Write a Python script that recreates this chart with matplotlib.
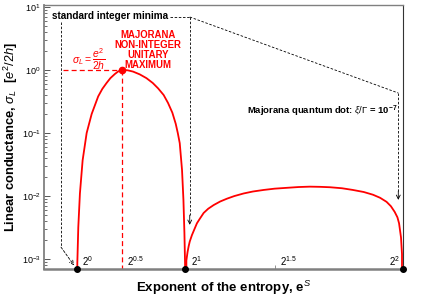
import matplotlib
matplotlib.use("Agg")
import matplotlib.pyplot as plt
import numpy as np

plt.rcParams['font.family'] = ['Liberation Sans', 'DejaVu Sans']
plt.rcParams['mathtext.fontset'] = 'custom'
plt.rcParams['mathtext.rm'] = 'Liberation Sans'
plt.rcParams['mathtext.it'] = 'Liberation Sans:italic'
plt.rcParams['mathtext.bf'] = 'Liberation Sans:bold'

# ---- data ----
arch1_x = [1.000, 1.006, 1.015, 1.030, 1.055, 1.092, 1.138, 1.198, 1.236, 1.275, 1.310,
           1.351, 1.380, 1.414, 1.470, 1.519, 1.580, 1.642, 1.700, 1.749, 1.800, 1.840,
           1.880, 1.911, 1.930, 1.948, 1.969, 1.982, 1.991, 1.997, 2.000]
arch1_y = [0, 8.5e-4, 3.2e-3, 1.1e-2, 3.7e-2, 0.10, 0.20, 0.38, 0.50, 0.62, 0.74,
           0.86, 0.94, 1.0, 0.985, 0.94, 0.85, 0.74, 0.62, 0.51, 0.40, 0.30,
           0.21, 0.14, 0.10, 0.069, 0.026, 8.7e-3, 2.6e-3, 8.5e-4, 0]
arch2_x = [2.000, 2.009, 2.020, 2.030, 2.040, 2.060, 2.080, 2.106, 2.130, 2.168, 2.210,
           2.260, 2.320, 2.383, 2.450, 2.536, 2.620, 2.720, 2.820, 2.930, 3.040,
           3.145, 3.240, 3.330, 3.440, 3.540, 3.640, 3.725, 3.790, 3.850, 3.890,
           3.925, 3.950, 3.965, 3.983, 3.992, 4.000]
arch2_y = [0, 9.5e-4, 1.3e-3, 1.6e-3, 1.9e-3, 2.4e-3, 2.9e-3, 3.7e-3, 4.3e-3, 5.4e-3, 6.3e-3,
           7.2e-3, 8.2e-3, 9.1e-3, 1.0e-2, 1.10e-2, 1.18e-2, 1.25e-2, 1.31e-2, 1.35e-2, 1.39e-2,
           1.41e-2, 1.40e-2, 1.38e-2, 1.33e-2, 1.25e-2, 1.16e-2, 1.05e-2, 9.4e-3, 8.1e-3, 6.9e-3,
           5.6e-3, 4.6e-3, 3.7e-3, 2.2e-3, 1.2e-3, 0]
minima_x = [1.0, 2.0, 4.0]
max_x = 2 ** 0.5
max_y = 1.0
tick_vals = [1.0, 2 ** 0.5, 2.0, 2 ** 1.5, 4.0]
tick_labels = [r'$\mathdefault{2^{0}}$', r'$\mathdefault{2^{0.5}}$', r'$\mathdefault{2^{1}}$',
               r'$\mathdefault{2^{1.5}}$', r'$\mathdefault{2^{2}}$']

YMIN, YMAX = 6.9e-4, 10.7
XMIN, XMAX = 0.70, 4.0

fig = plt.figure(figsize=(4.36, 2.98), dpi=100)
ax = fig.add_axes([0.101, 0.0963, 0.823, 0.887])
ax.set_yscale('log', nonpositive='clip')
ax.set_xlim(XMIN, XMAX)
ax.set_ylim(YMIN, YMAX)

red = '#ff0000'
ax.plot(arch1_x, arch1_y, color=red, lw=1.3, zorder=3)
ax.plot(arch2_x, arch2_y, color=red, lw=1.3, zorder=3)

# red maximum marker and dashed guides
ax.plot([0.874, max_x], [max_y, max_y], color=red, lw=0.9, ls=(0, (4, 2.5)), zorder=2)
ax.plot([max_x, max_x], [max_y, YMIN], color=red, lw=0.9, ls=(0, (4, 2.5)), zorder=2)
ax.plot([max_x], [max_y], 'o', color=red, ms=4.5, zorder=4)

# black minima dots
ax.plot(minima_x, [YMIN] * 3, 'o', color='black', ms=4, clip_on=False, zorder=5)

# x "tick" labels as annotations
offsets = [(4, 1), (4, 1), (4, 1), (3, 1), (-2, 1)]
has = ['left', 'left', 'left', 'left', 'right']
for v, lab, off, ha in zip(tick_vals, tick_labels, offsets, has):
    ax.annotate(lab, (v, YMIN), xytext=off, textcoords='offset points',
                ha=ha, va='bottom', fontsize=7)

# dashed black guide lines
dk = dict(color='black', lw=0.6, ls=(0, (3, 2)))
ax.plot([1.856, 2.04], [6.9, 6.9], **dk)
ax.plot([2.04, 3.958], [6.9, 0.43], **dk)
ax.plot([0.856, 0.856], [5.8, 1.55e-3], **dk)
ax.plot([2.04, 2.04], [6.9, 5e-3], **dk)
ax.plot([3.958, 3.958], [0.43, 1.2e-2], **dk)
aprops = dict(arrowstyle='->', color='black', lw=0.6, ls=(0, (3, 2)), shrinkA=0, shrinkB=0,
              mutation_scale=7)
ax.annotate('', xy=(0.975, 8.0e-4), xytext=(0.856, 1.55e-3), arrowprops=aprops)
ax.annotate('', xy=(2.04, 3.5e-3), xytext=(2.04, 5e-3),
            arrowprops=dict(arrowstyle='->', color='black', lw=0.6, shrinkA=0, shrinkB=0, mutation_scale=7))
ax.annotate('', xy=(3.958, 8.7e-3), xytext=(3.958, 1.2e-2),
            arrowprops=dict(arrowstyle='->', color='black', lw=0.6, shrinkA=0, shrinkB=0, mutation_scale=7))

# texts
ax.text(0.774, 7.1, 'standard integer minima', fontsize=7.2, fontweight='bold',
        ha='left', va='center')
ax.text(1.113, 1.45, r'$\sigma_L = \dfrac{e^2}{2h}$', color=red, fontsize=7.5,
        ha='center', va='center')
ax.text(1.655, 2.07, 'MAJORANA\nNON-INTEGER\nUNITARY\nMAXIMUM', color=red, fontsize=6.9,
        fontweight='bold', ha='center', va='center', linespacing=1.0)
ax.text(2.564, 0.224, r'Majorana quantum dot: $\xi/\Gamma$ = 10$^{\mathdefault{-7}}$', fontsize=6.8,
        fontweight='bold', ha='left', va='center')

# axes styling
for s in ['left', 'bottom', 'top']:
    ax.spines[s].set_color('#808080')
ax.spines['left'].set_linewidth(1.3)
ax.spines['bottom'].set_linewidth(1.8)
ax.spines['top'].set_linewidth(1.0)
ax.spines['right'].set_color('#333333')
ax.spines['right'].set_linewidth(0.8)

ax.set_xticks([2 ** 1.5])
ax.set_xticklabels([''])
ax.tick_params(axis='x', direction='in', length=3, color='#808080', width=0.6)
ax.tick_params(axis='y', which='major', direction='in', length=4, color='#555555', width=0.7,
               labelsize=6.5, right=False, pad=2.5)
ax.tick_params(axis='y', which='minor', direction='in', length=2.5, color='#555555', width=0.6,
               right=False)
ax.yaxis.set_major_locator(matplotlib.ticker.LogLocator(base=10, numticks=10))
ax.yaxis.set_minor_locator(matplotlib.ticker.LogLocator(base=10, subs=np.arange(2, 10), numticks=20))

ax.set_ylabel(r'Linear conductance, $\sigma_L$  [$e^2/2h$]', fontsize=9.3, fontweight='bold')
ax.set_xlabel(r'Exponent of the entropy, e$^{S}$', fontsize=9.5, fontweight='bold')
ax.yaxis.set_label_coords(-0.092, 0.5)
ax.xaxis.set_label_coords(0.5, -0.071)
ax.yaxis.label.set_va('center')
ax.xaxis.label.set_va('center')

fig.savefig('out.png', dpi=100)
